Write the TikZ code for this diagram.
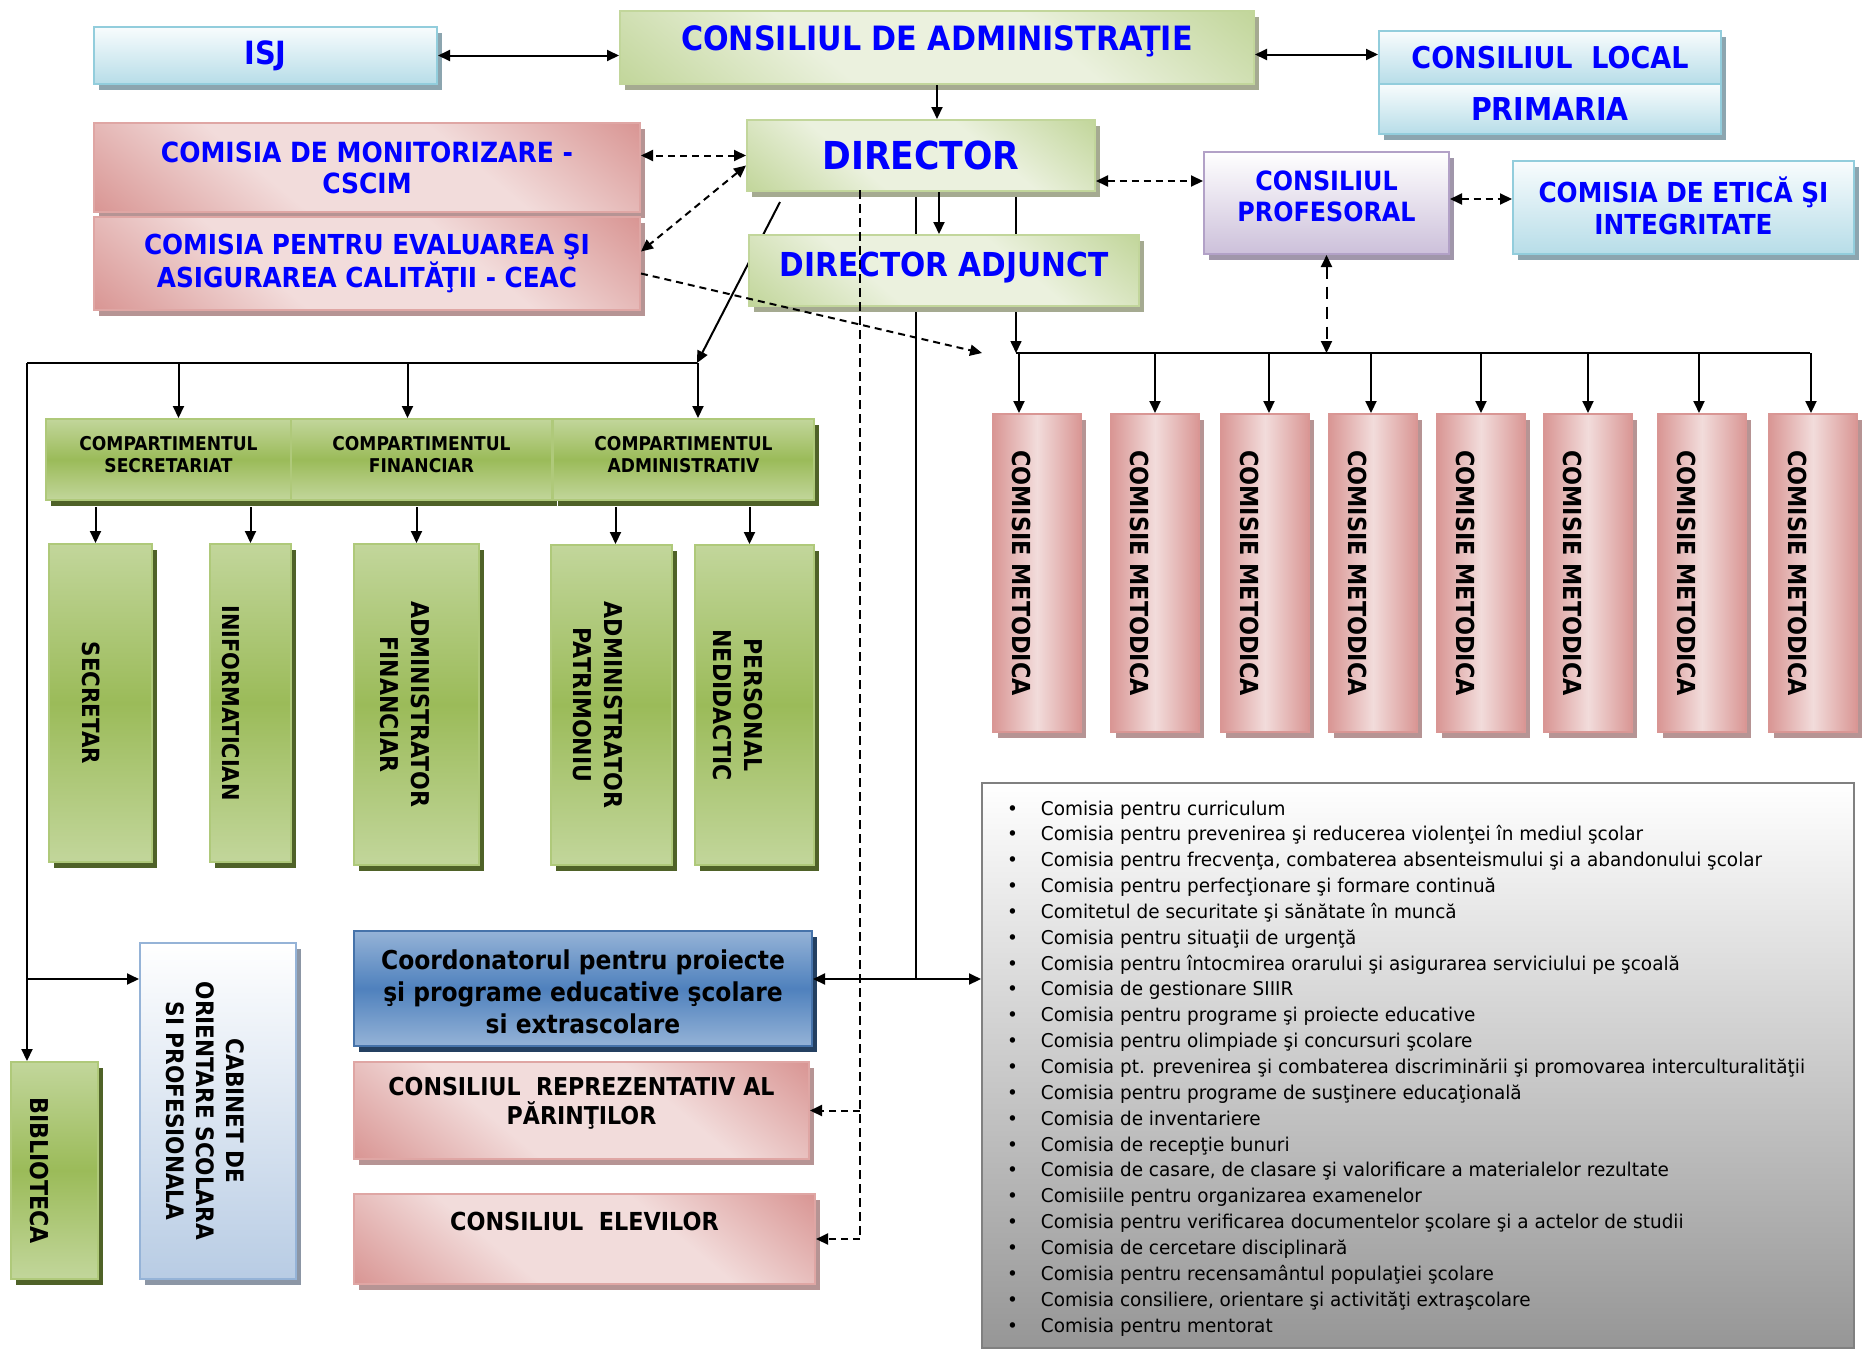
\documentclass[tikz,border=0pt]{standalone}
\usepackage{fontspec}
\newfontfamily\tahoma[FakeStretch=0.9]{DejaVu Sans}
\newfontfamily\listfont[FakeStretch=0.97]{DejaVu Sans}
\usetikzlibrary{arrows.meta,shadows,backgrounds}

\definecolor{grLight}{RGB}{235,241,222}
\definecolor{grMid}{RGB}{194,214,155}
\definecolor{grDark}{RGB}{155,187,89}
\definecolor{grShadow}{RGB}{79,98,40}
\definecolor{grGray}{RGB}{165,170,145}
\definecolor{pkLight}{RGB}{242,220,219}
\definecolor{pkDark}{RGB}{217,150,148}
\definecolor{pkShadow}{RGB}{182,148,148}
\definecolor{blLight}{RGB}{248,252,253}
\definecolor{blMid}{RGB}{183,221,232}
\definecolor{blBorder}{RGB}{146,205,220}
\definecolor{blShadow}{RGB}{140,165,175}
\definecolor{vlBottom}{RGB}{204,192,218}
\definecolor{vlBorder}{RGB}{178,161,199}
\definecolor{vlShadow}{RGB}{160,150,170}
\definecolor{cbBottom}{RGB}{184,204,228}
\definecolor{cbBorder}{RGB}{149,179,215}
\definecolor{cbShadow}{RGB}{140,150,165}
\definecolor{coMid}{RGB}{79,129,189}
\definecolor{coLight}{RGB}{149,179,215}
\definecolor{coBorder}{RGB}{70,115,170}
\definecolor{coShadow}{RGB}{36,64,97}
\definecolor{lsBottom}{RGB}{150,150,150}
\definecolor{lsBorder}{RGB}{128,128,128}

% broad light band across the box
\pgfdeclareverticalshading{greenband}{100bp}{color(0bp)=(grMid); color(15bp)=(grMid); color(38bp)=(grLight); color(62bp)=(grLight); color(85bp)=(grMid); color(100bp)=(grMid)}
\pgfdeclareverticalshading{pinkband}{100bp}{color(0bp)=(pkDark); color(15bp)=(pkDark); color(38bp)=(pkLight); color(62bp)=(pkLight); color(85bp)=(pkDark); color(100bp)=(pkDark)}

\newcommand{\fsz}[2]{\fontsize{#1}{#2}\selectfont}

\tikzset{every picture/.style={line width=2pt}}
\tikzset{
  box/.style={inner sep=0pt, anchor=north west, line width=2pt},
  shadowed/.style={drop shadow={shadow xshift=5pt, shadow yshift=-6pt, fill=#1, opacity=1}},
  adminbox/.style={box, draw=grMid, shade, shading=greenband, shading angle=-40, shadowed=grGray},
  comisiabox/.style={box, draw=pkDark!85, shade, shading=pinkband, shading angle=-40, shadowed=pkShadow},
  infobox/.style={box, draw=blBorder, top color=blLight, bottom color=blMid, shadowed=blShadow},
  profbox/.style={box, draw=vlBorder, top color=white, bottom color=vlBottom, shadowed=vlShadow},
  compbox/.style={box, draw=grDark!80!white, top color=grMid, bottom color=grMid, middle color=grDark, shadowed=grShadow},
  metbox/.style={box, draw=pkDark, left color=pkDark, right color=pkDark, middle color=pkLight, shadowed=pkShadow},
  cabbox/.style={box, draw=cbBorder, top color=white, bottom color=cbBottom, shadowed=cbShadow},
  coordbox/.style={box, draw=coBorder, top color=coLight, bottom color=coLight, middle color=coMid, shadowed=coShadow},
  listbox/.style={box, draw=lsBorder, top color=white, bottom color=lsBottom},
  titletext/.style 2 args={font=\tahoma\bfseries\fsz{#1}{#2}, text=blue, align=center, inner sep=0pt},
  blacktext/.style 2 args={font=\tahoma\bfseries\fsz{#1}{#2}, text=black, align=center, inner sep=0pt},
  vtext/.style 2 args={blacktext={#1}{#2}, rotate=-90},
  listitem/.style={font=\listfont\fsz{19}{23}, anchor=base west, inner sep=0pt},
  dashline/.style={line width=2pt, dash pattern=on 7pt off 5pt},
  thinline/.style={line width=1.6pt},
}

\begin{document}
\begin{tikzpicture}[x=1pt,y=-1pt,>={Triangle[length=12pt,width=11pt]}]
\useasboundingbox (0,0) rectangle (1863,1350);

%Shape: Rectangle [isj]
\node[infobox, minimum width=343pt, minimum height=57pt] (isj) at (93,26) {};
%Shape: Rectangle [ca]
\node[adminbox, minimum width=634pt, minimum height=73pt] (ca) at (619,10) {};
%Shape: Rectangle [cl]
\node[infobox, minimum width=342pt, minimum height=53pt] (cl) at (1378,30) {};
%Shape: Rectangle [prim]
\node[infobox, minimum width=342pt, minimum height=50pt] (prim) at (1378,83) {};
%Shape: Rectangle [cscim]
\node[comisiabox, minimum width=546pt, minimum height=89pt] (cscim) at (93,122) {};
%Shape: Rectangle [ceac]
\node[comisiabox, minimum width=546pt, minimum height=93pt] (ceac) at (93,216) {};
%Shape: Rectangle [dir]
\node[adminbox, minimum width=348pt, minimum height=71pt] (dir) at (746,119) {};
%Shape: Rectangle [da]
\node[adminbox, minimum width=390pt, minimum height=71pt] (da) at (748,234) {};
%Shape: Rectangle [cp]
\node[profbox, minimum width=245pt, minimum height=102pt] (cp) at (1203,151) {};
%Shape: Rectangle [etica]
\node[infobox, minimum width=341pt, minimum height=93pt] (etica) at (1512,160) {};

% Text Node
\node[titletext={32}{38}] (isjtext) at (isj.center) {ISJ};
% Text Node
\node[titletext={33.5}{38}] (catext) at ([yshift=6pt]ca.center) {CONSILIUL DE ADMINISTRAŢIE};
% Text Node
\node[titletext={30}{36}] (cltext) at (cl.center) {CONSILIUL\ \ LOCAL};
% Text Node
\node[titletext={31.5}{36}] (primtext) at (prim.center) {PRIMARIA};
% Text Node
\node[titletext={27.8}{31}] (cscimtext) at (cscim.center) {COMISIA DE MONITORIZARE -\\CSCIM};
% Text Node
\node[titletext={27.5}{31}] (ceactext) at (ceac.center) {COMISIA PENTRU EVALUAREA ŞI\\ASIGURAREA CALITĂŢII - CEAC};
% Text Node
\node[titletext={38.5}{44}] (dirtext) at (dir.center) {DIRECTOR};
% Text Node
\node[titletext={33}{38}] (datext) at ([yshift=3pt]da.center) {DIRECTOR ADJUNCT};
% Text Node
\node[titletext={26.5}{31}] (cptext) at ([yshift=7pt]cp.center) {CONSILIUL\\PROFESORAL};
% Text Node
\node[titletext={27.5}{32}] (eticatext) at ([yshift=2pt]etica.center) {COMISIA DE ETICĂ ŞI\\INTEGRITATE};

%Shape: Rectangle [compartimente]
\node[compbox, minimum width=245pt, minimum height=81pt] (csec) at (45,418) {};
\node[compbox, minimum width=261pt, minimum height=81pt] (cfin) at (290,418) {};
\node[compbox, minimum width=261pt, minimum height=81pt] (cadm) at (552,418) {};
% Text Node
\node[blacktext={19}{22.5}] (csectext) at ([yshift=5pt]csec.center) {COMPARTIMENTUL\\SECRETARIAT};
\node[blacktext={19}{22.5}] (cfintext) at ([yshift=5pt]cfin.center) {COMPARTIMENTUL\\FINANCIAR};
\node[blacktext={19}{22.5}] (cadmtext) at ([yshift=5pt]cadm.center) {COMPARTIMENTUL\\ADMINISTRATIV};

%Shape: Rectangle [personal]
\node[compbox, minimum width=103pt, minimum height=318pt] (secr) at (48,543) {};
\node[compbox, minimum width=81pt, minimum height=318pt] (info) at (209,543) {};
\node[compbox, minimum width=125pt, minimum height=321pt] (afin) at (353,543) {};
\node[compbox, minimum width=121pt, minimum height=320pt] (apat) at (550,544) {};
\node[compbox, minimum width=119pt, minimum height=320pt] (pers) at (694,544) {};
% Text Node
\node[vtext={23.7}{31}] (secrtext) at ([xshift=-9pt]secr.center) {SECRETAR};
\node[vtext={23.2}{31}] (infotext) at ([xshift=-20pt]info.center) {INIFORMATICIAN};
\node[vtext={24.5}{31}] (afintext) at ([xshift=-12pt]afin.center) {ADMINISTRATOR\\FINANCIAR};
\node[vtext={24.5}{31}] (apattext) at ([xshift=-14pt]apat.center) {ADMINISTRATOR\\PATRIMONIU};
\node[vtext={24.5}{31}] (perstext) at ([xshift=-17pt]pers.center) {PERSONAL\\NEDIDACTIC};

%Shape: Rectangle [comisii metodice]
\foreach \x [count=\i] in {992,1110,1220,1328,1436,1543,1657,1768}{
  \node[metbox, minimum width=88pt, minimum height=318pt] (cm\i) at (\x,413) {};
  \node[vtext={24.8}{30}] (cmtext\i) at ([xshift=-15pt]cm\i.center) {COMISIE METODICA};
}

%Shape: Rectangle [jos]
\node[compbox, minimum width=87pt, minimum height=217pt] (bib) at (10,1061) {};
\node[cabbox, minimum width=156pt, minimum height=336pt] (cab) at (139,942) {};
\node[coordbox, minimum width=458pt, minimum height=115pt] (coord) at (353,930) {};
\node[comisiabox, minimum width=455pt, minimum height=97pt] (crp) at (353,1061) {};
\node[comisiabox, minimum width=461pt, minimum height=90pt] (cel) at (353,1193) {};
% Text Node
\node[vtext={24.6}{31}] (bibtext) at ([xshift=-15pt]bib.center) {BIBLIOTECA};
\node[vtext={24}{30}] (cabtext) at ([xshift=-13pt]cab.center) {CABINET DE\\ORIENTARE SCOLARA\\SI PROFESIONALA};
\node[blacktext={26}{32}] (coordtext) at ([yshift=-3pt]coord.center) {Coordonatorul pentru proiecte\\şi programe educative şcolare\\si extrascolare};
\node[blacktext={24.6}{29}] (crptext) at ([yshift=7pt]crp.center) {CONSILIUL\ \ REPREZENTATIV AL\\PĂRINŢILOR};
\node[blacktext={24.8}{30}] (celtext) at ([yshift=18pt]cel.center) {CONSILIUL\ \ ELEVILOR};

%Shape: Rectangle [lista comisii]
\node[listbox, minimum width=872pt, minimum height=565pt] (comlist) at (981,782) {};
\foreach \t [count=\i] in {Comisia pentru curriculum,
  Comisia pentru prevenirea şi reducerea violenţei în mediul şcolar,
  {Comisia pentru frecvenţa, combaterea absenteismului şi a abandonului şcolar},
  Comisia pentru perfecţionare şi formare continuă,
  Comitetul de securitate şi sănătate în muncă,
  Comisia pentru situaţii de urgenţă,
  Comisia pentru întocmirea orarului şi asigurarea serviciului pe şcoală,
  Comisia de gestionare SIIIR,
  Comisia pentru programe şi proiecte educative,
  Comisia pentru olimpiade şi concursuri şcolare,
  Comisia pt. prevenirea şi combaterea discriminării şi promovarea interculturalităţii,
  Comisia pentru programe de susţinere educaţională,
  Comisia de inventariere,
  Comisia de recepţie bunuri,
  {Comisia de casare, de clasare şi valorificare a materialelor rezultate},
  Comisiile pentru organizarea examenelor,
  Comisia pentru verificarea documentelor şcolare şi a actelor de studii,
  Comisia de cercetare disciplinară,
  Comisia pentru recensamântul populaţiei şcolare,
  {Comisia consiliere, orientare şi activităţi extraşcolare},
  Comisia pentru mentorat}
  \node[listitem] (item\i) at (1006,{815+25.85*(\i-1)}) {\makebox[34pt][l]{•}\t};

% coordinates
\coordinate (barL) at (1016,353);
\coordinate (barR) at (1810,353);
\coordinate (bus) at (697,363);
\coordinate (busW) at (27,363);
\coordinate (hub) at (916,979);
\coordinate (dsh) at (860,190);

% lines behind the boxes
\begin{scope}[on background layer]
\draw[thinline] (dir.south -| hub) -- (hub);
\draw[thinline,->] (barL |- dir.south) -- (barL);
\draw[line width=2pt,->] ([xshift=-141pt,yshift=-10pt]dir.south) -- (bus);
\end{scope}

% top arrows
\draw[<->] (isj.east) -- (isj.east -| ca.west);
\coordinate (clin) at ([yshift=3pt]cl.west);
\draw[<->] (clin -| ca.east) -- (clin);
\draw[->] (ca.south) -- (ca.south |- dir.north);
\coordinate (dirin) at ([xshift=18pt]dir.south);
\draw[->] (dirin) -- (dirin |- da.north);

% dashed links
\draw[dashline,<->] (dir.west) -- (dir.west -| cscim.east);
\draw[dashline,<->] ([yshift=-10pt]dir.west) -- ([yshift=12pt]ceac.east);
\draw[dashline,->] ([yshift=-10pt]ceac.east) -- ([xshift=-34pt]barL);
\coordinate (cpl) at ([yshift=22pt]cp.west);
\draw[dashline,<->] (cpl -| dir.east) -- (cpl);
\coordinate (cpr) at ([yshift=4pt]cp.east);
\draw[dashline,<->] (cpr) -- (cpr -| etica.west);
\draw[line width=2pt, dash pattern=on 12pt off 8pt,<->] (cp.south) -- (cp.south |- barL);

% comisii metodice
\draw (barL) -- (barR);
\foreach \i/\dx in {1/-18,2/0,3/4,4/-2,5/0,6/0,7/-3,8/-2}{
  \coordinate (cmin\i) at ([xshift=\dx pt]cm\i.north);
  \draw[->] (cmin\i |- barL) -- (cmin\i);
}

% compartimente
\draw (bus) -- (busW);
\draw[->] (busW) -- (busW |- bib.north);
\draw[->] (busW |- hub) -- (cab.west |- hub);
\coordinate (csecin) at ([xshift=10pt]csec.north);
\coordinate (cfinin) at ([xshift=-14pt]cfin.north);
\coordinate (cadmin) at ([xshift=14.5pt]cadm.north);
\draw[->] (csecin |- bus) -- (csecin);
\draw[->] (cfinin |- bus) -- (cfinin);
\draw[->] (cadmin |- bus) -- (cadmin);

\coordinate (secrin) at ([xshift=-5pt]secr.north);
\coordinate (apatin) at ([xshift=4pt]apat.north);
\coordinate (persin) at ([xshift=-5pt]pers.north);
\draw[->] (secrin |- csec.south) ++(0,6) -- (secrin);
\draw[->] (info.north |- csec.south) ++(0,6) -- (info.north);
\draw[->] (afin.north |- cfin.south) ++(0,6) -- (afin.north);
\draw[->] (apatin |- cadm.south) ++(0,6) -- (apatin);
\draw[->] (persin |- cadm.south) ++(0,6) -- (persin);

% coordonator si lista
\draw[<->] (coord.east |- hub) -- (comlist.west |- hub);

% consilii
\draw[thinline, dash pattern=on 9pt off 5pt] (dsh) -- (dsh |- cel.east);
\draw[dashline,->] (dsh |- cel.east) -- (cel.east);
\draw[dashline,->] (dsh |- crp.east) -- (crp.east);

\end{tikzpicture}
\end{document}
